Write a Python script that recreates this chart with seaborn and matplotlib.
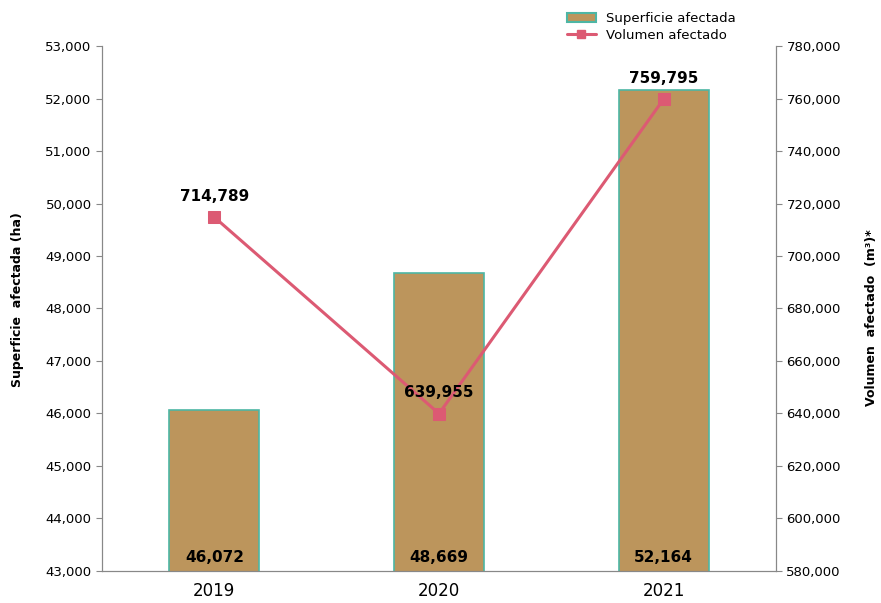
import matplotlib
matplotlib.use("Agg")
import matplotlib.pyplot as plt
import seaborn as sns
import numpy as np
import pandas as pd
from matplotlib.lines import Line2D
from matplotlib.patches import Patch

years = ["2019", "2020", "2021"]
superficie = [46072, 48669, 52164]
volumen = [714789, 639955, 759795]

bar_color = "#BC955C"
edge_color = "#4DB6A4"
line_color = "#DC5A73"

sns.set_style("white")
plt.rcParams["font.family"] = ["DejaVu Sans"]
plt.rcParams["text.color"] = "black"
plt.rcParams["axes.labelcolor"] = "black"

df = pd.DataFrame({"year": years, "sup": superficie, "vol": volumen})

fig = plt.figure(figsize=(8.81, 6.03), dpi=100)
ax = fig.add_axes([0.1158, 0.0531, 0.765, 0.8706])

sns.barplot(data=df, x="year", y="sup", ax=ax, color=bar_color,
            width=0.4, edgecolor=edge_color, linewidth=1.2, saturation=1)
ax.set_ylim(43000, 53000)
ax.set_yticks(np.arange(43000, 53001, 1000))
ax.yaxis.set_major_formatter(matplotlib.ticker.StrMethodFormatter("{x:,.0f}"))
ax.set_xlabel("")
ax.set_ylabel("")
ax.tick_params(axis="y", labelsize=9.5, length=4, color="#888888", labelcolor="black", left=True)
ax.tick_params(axis="x", labelsize=12, length=0, pad=8, labelcolor="black")

# bar labels at the bottom
for i, v in enumerate(superficie):
    ax.text(i, 43120, f"{v:,}", ha="center", va="bottom", fontsize=11, fontweight="bold")

ax2 = ax.twinx()
sns.lineplot(x=np.arange(len(years)), y=volumen, ax=ax2, color=line_color,
             linewidth=2.2, marker="s", markersize=8, markeredgecolor=line_color)
ax2.set_ylim(580000, 780000)
ax2.set_yticks(np.arange(580000, 780001, 20000))
ax2.yaxis.set_major_formatter(matplotlib.ticker.StrMethodFormatter("{x:,.0f}"))
ax2.set_ylabel("")
ax2.tick_params(axis="y", labelsize=9.5, length=4, color="#888888", labelcolor="black", right=True)
ax2.set_xlim(-0.5, len(years) - 0.5)

for i, v in enumerate(volumen):
    ax2.text(i, v + 5000, f"{v:,}", ha="center", va="bottom", fontsize=11, fontweight="bold")

for a in (ax, ax2):
    a.spines["top"].set_visible(False)
    for s in ("left", "right", "bottom"):
        a.spines[s].set_color("#888888")

# axis titles
fig.text(18 / 881, 1 - 300 / 603, "Superficie  afectada (ha)", rotation=90,
         ha="center", va="center", fontsize=9, fontweight="bold")
fig.text(872 / 881, 1 - 318 / 603, "Volumen  afectado  (m³)*", rotation=90,
         ha="center", va="center", fontsize=9, fontweight="bold")

handles = [Patch(facecolor=bar_color, edgecolor=edge_color, linewidth=1.5),
           Line2D([0], [0], color=line_color, linewidth=2.2, marker="s", markersize=6)]
fig.legend(handles, ["Superficie afectada", "Volumen afectado"], loc="upper left",
           bbox_to_anchor=(0.63, 1.0), frameon=False, fontsize=9.5,
           handlelength=2.2, labelspacing=0.3)

fig.savefig("out.png", dpi=100)
